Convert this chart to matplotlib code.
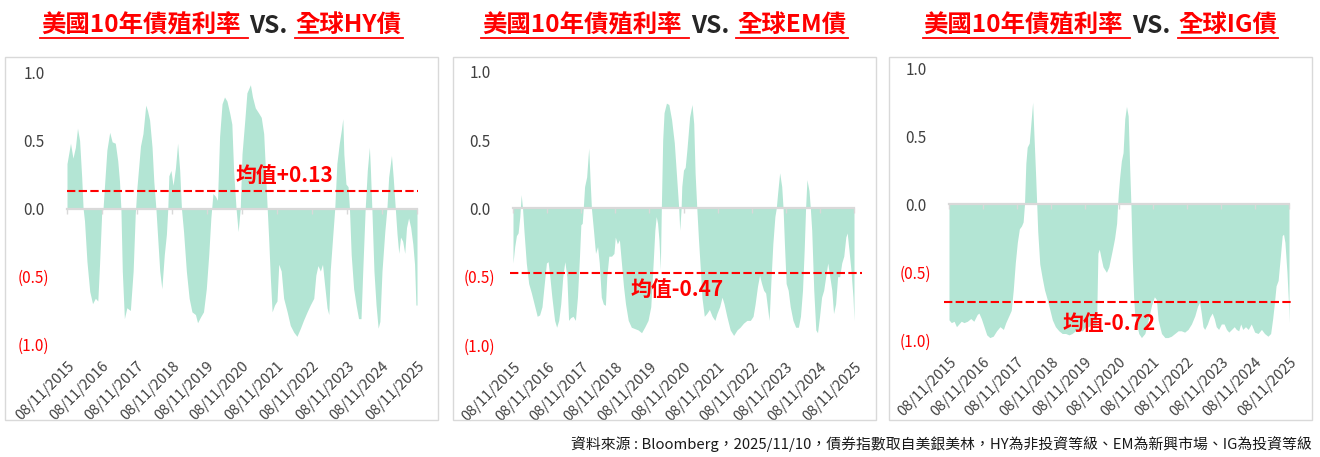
import matplotlib
matplotlib.use('Agg')
import matplotlib.pyplot as plt
from matplotlib.patches import Rectangle
from matplotlib.lines import Line2D
from matplotlib.transforms import ScaledTranslation

plt.rcParams['font.family'] = ['Noto Sans CJK TC', 'DejaVu Sans']

# ---- data (years since 08/11/2015, rolling correlation) ----
years = list(range(2015, 2026))
date_labels = ['08/11/%d' % y for y in years]
tick_pos = [y - 2015 for y in years]

t_hy = [0.00, 0.10, 0.17, 0.24, 0.30, 0.36, 0.42, 0.46, 0.50, 0.57,
        0.65, 0.73, 0.81, 0.88, 0.93, 0.99, 1.03, 1.08, 1.14, 1.22,
        1.29, 1.38, 1.45, 1.50, 1.54, 1.58, 1.64, 1.71, 1.81, 1.89,
        1.95, 2.00, 2.10, 2.17, 2.25, 2.30, 2.36, 2.43, 2.48, 2.54,
        2.59, 2.65, 2.71, 2.78, 2.84, 2.88, 2.91, 2.97, 3.03, 3.10,
        3.16, 3.22, 3.27, 3.33, 3.41, 3.49, 3.57, 3.67, 3.73, 3.81,
        3.90, 3.98, 4.05, 4.11, 4.17, 4.24, 4.30, 4.36, 4.43, 4.50,
        4.57, 4.65, 4.71, 4.76, 4.83, 4.89, 4.95, 5.00, 5.08, 5.14,
        5.24, 5.30, 5.38, 5.48, 5.55, 5.62, 5.67, 5.72, 5.76, 5.81,
        5.86, 5.93, 6.00, 6.05, 6.12, 6.19, 6.29, 6.38, 6.48, 6.57,
        6.67, 6.76, 6.86, 6.95, 7.05, 7.11, 7.17, 7.24, 7.30, 7.36,
        7.43, 7.48, 7.52, 7.59, 7.65, 7.71, 7.78, 7.84, 7.88, 7.91,
        7.97, 8.03, 8.07, 8.12, 8.19, 8.26, 8.33, 8.40, 8.45, 8.52,
        8.58, 8.64, 8.67, 8.71, 8.77, 8.83, 8.89, 8.94, 9.00, 9.08,
        9.14, 9.19, 9.27, 9.32, 9.38, 9.43, 9.48, 9.53, 9.59, 9.65,
        9.70, 9.76, 9.82, 9.88, 9.93, 9.97, 10.00]
v_hy = [0.33, 0.48, 0.37, 0.45, 0.59, 0.50, 0.23, 0.00, -0.09, -0.39,
        -0.61, -0.70, -0.66, -0.68, -0.41, -0.04, 0.00, 0.20, 0.43, 0.56,
        0.49, 0.48, 0.35, 0.20, 0.00, -0.46, -0.81, -0.73, -0.75, -0.46,
        -0.04, 0.16, 0.46, 0.55, 0.76, 0.72, 0.65, 0.45, 0.20, 0.00,
        -0.21, -0.46, -0.59, -0.34, -0.19, 0.00, 0.24, 0.28, 0.17, 0.30,
        0.48, 0.28, 0.00, -0.17, -0.46, -0.66, -0.76, -0.78, -0.84, -0.80,
        -0.76, -0.59, -0.34, -0.07, 0.11, 0.09, 0.06, 0.53, 0.77, 0.82,
        0.79, 0.70, 0.62, 0.28, 0.00, -0.17, 0.00, 0.40, 0.65, 0.85,
        0.91, 0.82, 0.74, 0.70, 0.67, 0.55, 0.28, 0.00, -0.21, -0.51,
        -0.76, -0.71, -0.68, -0.41, -0.46, -0.66, -0.76, -0.86, -0.91, -0.94,
        -0.88, -0.82, -0.76, -0.71, -0.66, -0.49, -0.42, -0.46, -0.41, -0.56,
        -0.73, -0.78, -0.46, -0.21, 0.00, 0.33, 0.48, 0.58, 0.66, 0.40,
        0.18, 0.16, 0.00, -0.34, -0.59, -0.71, -0.81, -0.81, -0.46, 0.00,
        0.28, 0.45, 0.28, 0.00, -0.46, -0.71, -0.88, -0.83, -0.46, -0.17,
        0.00, 0.23, 0.39, 0.23, 0.00, -0.19, -0.33, -0.21, -0.24, -0.33,
        -0.14, -0.07, -0.14, -0.26, -0.41, -0.71, -0.71]

t_em = [0.00, 0.05, 0.10, 0.15, 0.20, 0.24, 0.28, 0.32, 0.39, 0.46,
        0.54, 0.62, 0.71, 0.78, 0.85, 0.91, 0.98, 1.03, 1.08, 1.14,
        1.22, 1.28, 1.34, 1.40, 1.46, 1.52, 1.58, 1.63, 1.69, 1.76,
        1.83, 1.89, 1.95, 1.99, 2.03, 2.06, 2.10, 2.16, 2.22, 2.26,
        2.30, 2.36, 2.42, 2.48, 2.53, 2.59, 2.65, 2.71, 2.75, 2.81,
        2.89, 2.96, 3.00, 3.06, 3.12, 3.18, 3.24, 3.30, 3.38, 3.47,
        3.57, 3.67, 3.77, 3.86, 3.96, 4.04, 4.11, 4.16, 4.20, 4.24,
        4.28, 4.32, 4.35, 4.39, 4.43, 4.50, 4.57, 4.65, 4.73, 4.79,
        4.86, 4.89, 4.93, 4.95, 5.00, 5.05, 5.10, 5.18, 5.25, 5.30,
        5.34, 5.39, 5.44, 5.49, 5.54, 5.61, 5.68, 5.76, 5.84, 5.92,
        5.98, 6.06, 6.13, 6.19, 6.27, 6.37, 6.47, 6.57, 6.66, 6.76,
        6.86, 6.96, 7.04, 7.10, 7.17, 7.23, 7.29, 7.35, 7.41, 7.47,
        7.51, 7.56, 7.62, 7.68, 7.72, 7.76, 7.82, 7.88, 7.92, 7.96,
        8.01, 8.07, 8.13, 8.21, 8.29, 8.37, 8.43, 8.49, 8.54, 8.58,
        8.62, 8.68, 8.72, 8.76, 8.82, 8.88, 8.93, 8.99, 9.05, 9.11,
        9.17, 9.23, 9.29, 9.35, 9.40, 9.46, 9.52, 9.58, 9.64, 9.70,
        9.76, 9.80, 9.85, 9.91, 9.97, 10.00]
v_em = [-0.40, -0.28, -0.20, -0.18, -0.06, 0.10, 0.00, -0.16, -0.40, -0.55,
        -0.62, -0.70, -0.79, -0.78, -0.72, -0.57, -0.40, -0.39, -0.50, -0.65,
        -0.82, -0.87, -0.82, -0.70, -0.50, -0.39, -0.50, -0.82, -0.80, -0.79,
        -0.82, -0.65, -0.35, -0.12, -0.11, 0.00, 0.16, 0.23, 0.44, 0.21,
        0.00, -0.16, -0.33, -0.28, -0.40, -0.65, -0.70, -0.71, -0.50, -0.35,
        -0.35, -0.33, -0.21, -0.26, -0.23, -0.40, -0.57, -0.70, -0.82, -0.87,
        -0.88, -0.89, -0.91, -0.87, -0.82, -0.72, -0.40, -0.16, -0.06, -0.11,
        -0.23, -0.45, 0.00, 0.50, 0.70, 0.77, 0.76, 0.65, 0.48, 0.26,
        0.00, -0.16, 0.00, 0.16, 0.28, 0.30, 0.43, 0.67, 0.76, 0.62,
        0.26, 0.00, -0.23, -0.43, -0.65, -0.79, -0.77, -0.74, -0.79, -0.82,
        -0.77, -0.72, -0.65, -0.70, -0.79, -0.89, -0.93, -0.89, -0.87, -0.84,
        -0.82, -0.82, -0.79, -0.70, -0.57, -0.49, -0.55, -0.60, -0.62, -0.74,
        -0.82, -0.55, -0.26, -0.06, 0.00, 0.11, 0.26, 0.16, 0.00, -0.26,
        -0.55, -0.60, -0.72, -0.82, -0.87, -0.87, -0.79, -0.60, -0.30, 0.00,
        0.21, 0.13, 0.00, -0.16, -0.60, -0.89, -0.91, -0.79, -0.65, -0.60,
        -0.50, -0.40, -0.50, -0.60, -0.77, -0.70, -0.50, -0.50, -0.40, -0.35,
        -0.21, -0.18, -0.30, -0.45, -0.65, -0.82]

t_ig = [0.00, 0.07, 0.15, 0.22, 0.29, 0.36, 0.44, 0.54, 0.64, 0.73,
        0.83, 0.88, 0.95, 1.03, 1.11, 1.20, 1.30, 1.40, 1.50, 1.60,
        1.67, 1.76, 1.83, 1.89, 1.95, 2.01, 2.07, 2.13, 2.18, 2.22,
        2.26, 2.30, 2.36, 2.42, 2.46, 2.50, 2.55, 2.58, 2.61, 2.67,
        2.74, 2.81, 2.89, 2.97, 3.04, 3.13, 3.23, 3.33, 3.43, 3.53,
        3.62, 3.72, 3.82, 3.92, 4.02, 4.11, 4.21, 4.28, 4.34, 4.38,
        4.42, 4.46, 4.53, 4.63, 4.70, 4.80, 4.87, 4.93, 4.96, 4.98,
        5.02, 5.07, 5.12, 5.17, 5.22, 5.27, 5.31, 5.35, 5.39, 5.43,
        5.46, 5.52, 5.58, 5.66, 5.76, 5.86, 5.96, 6.04, 6.10, 6.15,
        6.25, 6.35, 6.44, 6.54, 6.64, 6.74, 6.83, 6.93, 7.03, 7.13,
        7.23, 7.31, 7.37, 7.42, 7.47, 7.52, 7.60, 7.67, 7.74, 7.80,
        7.86, 7.93, 8.01, 8.09, 8.16, 8.23, 8.31, 8.39, 8.45, 8.52,
        8.58, 8.64, 8.72, 8.80, 8.89, 8.99, 9.09, 9.19, 9.28, 9.38,
        9.46, 9.52, 9.56, 9.62, 9.68, 9.74, 9.80, 9.84, 9.88, 9.94,
        9.98, 10.00]
v_ig = [-0.85, -0.87, -0.86, -0.90, -0.88, -0.86, -0.87, -0.86, -0.84, -0.86,
        -0.81, -0.80, -0.84, -0.90, -0.96, -0.98, -0.97, -0.93, -0.90, -0.92,
        -0.87, -0.82, -0.78, -0.63, -0.43, -0.28, -0.18, -0.16, -0.13, 0.00,
        0.30, 0.42, 0.45, 0.63, 0.75, 0.50, 0.20, 0.00, -0.20, -0.44,
        -0.54, -0.63, -0.70, -0.78, -0.85, -0.90, -0.93, -0.95, -0.95, -0.96,
        -0.95, -0.93, -0.93, -0.93, -0.90, -0.90, -0.88, -0.90, -0.88, -0.36,
        -0.33, -0.38, -0.46, -0.50, -0.46, -0.34, -0.25, -0.14, 0.00, 0.08,
        0.20, 0.32, 0.38, 0.63, 0.72, 0.65, 0.30, 0.00, -0.40, -0.68,
        -0.80, -0.88, -0.95, -0.98, -0.95, -0.85, -0.74, -0.68, -0.70, -0.85,
        -0.95, -0.98, -0.98, -0.97, -0.95, -0.93, -0.93, -0.94, -0.92, -0.88,
        -0.82, -0.75, -0.72, -0.80, -0.90, -0.92, -0.88, -0.83, -0.80, -0.84,
        -0.90, -0.92, -0.88, -0.88, -0.92, -0.94, -0.92, -0.90, -0.92, -0.93,
        -0.88, -0.92, -0.90, -0.92, -0.88, -0.94, -0.95, -0.92, -0.95, -0.97,
        -0.95, -0.84, -0.75, -0.60, -0.56, -0.40, -0.23, -0.22, -0.28, -0.50,
        -0.70, -0.87]

series_t = [t_hy, t_em, t_ig]
series_v = [v_hy, v_em, v_ig]
title_left = '美國10年債殖利率'
title_right = ['全球HY債', '全球EM債', '全球IG債']
means = [0.13, -0.47, -0.72]
mean_text = ['均值+0.13', '均值-0.47', '均值-0.72']
ytick_vals = [1.0, 0.5, 0.0, -0.5, -1.0]
ytick_labels = ['1.0', '0.5', '0.0', '(0.5)', '(1.0)']
source = '資料來源 : Bloomberg，2025/11/10，債券指數取自美銀美林，HY為非投資等級、EM為新興市場、IG為投資等級'

# ---- styling / layout (pixels) ----
W, H = 1320, 457
RED = '#ff0000'
DARK = '#262626'
GREY = '#404040'
LINE = '#d9d9d9'
MINT = '#b3e5d4'

frames = [(5, 57, 438, 420), (453, 57, 876, 420), (889, 57, 1312, 420)]
axes_px = [(67, 72.5, 417, 344.5), (513, 71.7, 854, 345), (949, 68.3, 1289, 340.3)]
label_xy = [(6.2, 0.24), (4.8, -0.59), (4.7, -0.875)]
mean_span = [(0.0, 1.003), (-0.008, 1.023), (-0.015, 1.015)]

fig = plt.figure(figsize=(W / 100, H / 100), dpi=100)
renderer = fig.canvas.get_renderer()


def draw_title(cx, base_y, right_text):
    parts = [(title_left, RED, 7, 9), ('VS.', DARK, None, 8), (right_text, RED, 1, 0)]
    arts = []
    for s, c, ul, gap in parts:
        t = fig.text(0, 1 - base_y / H, s, color=c, fontsize=17.6, fontweight='bold',
                     ha='left', va='baseline')
        w = t.get_window_extent(renderer).width
        arts.append((t, w, ul, gap))
    total = sum(w + g for _, w, _, g in arts)
    x = cx - total / 2
    for t, w, ul, gap in arts:
        t.set_x(x / W)
        if ul is not None:
            yu = 1 - (base_y + 5) / H
            fig.add_artist(Line2D([(x - 1) / W, (x + w + ul) / W], [yu, yu],
                                  transform=fig.transFigure, color=RED, lw=1.3))
        x += w + gap


for i in range(3):
    l, t, r, b = frames[i]
    fig.add_artist(Rectangle((l / W, 1 - b / H), (r - l) / W, (b - t) / H,
                             transform=fig.transFigure, fill=False, ec=LINE, lw=1))
    draw_title((l + r) / 2, 33, title_right[i])

    al, at, ar, ab = axes_px[i]
    ax = fig.add_axes([al / W, 1 - ab / H, (ar - al) / W, (ab - at) / H])
    ax.patch.set_alpha(0)
    ax.fill_between(series_t[i], series_v[i], 0, color=MINT, lw=0, zorder=1)
    ax.set_xlim(0, 10)
    ax.set_ylim(-1, 1)

    for s in ['top', 'right', 'left']:
        ax.spines[s].set_visible(False)
    ax.spines['bottom'].set_position(('data', 0))
    ax.spines['bottom'].set_color(LINE)
    ax.spines['bottom'].set_linewidth(1.6)
    ax.set_xticks(tick_pos)
    ax.tick_params(axis='x', length=3.5, width=1, color=LINE, labelbottom=False)

    ax.set_yticks(ytick_vals)
    ax.set_yticklabels(ytick_labels, fontsize=11)
    ax.tick_params(axis='y', length=0, pad=12.6)
    for v, lab in zip(ytick_vals, ax.get_yticklabels()):
        if v < 0:
            lab.set_color(RED)
        else:
            lab.set_color(GREY)
            lab.set_transform(lab.get_transform() + ScaledTranslation(-5 / 100, 0, fig.dpi_scale_trans))

    sec = ax.secondary_xaxis('bottom')
    sec.set_xticks(tick_pos)
    sec.set_xticklabels(date_labels, rotation=45, ha='right', va='top',
                        rotation_mode='anchor', fontsize=10.5, color=GREY)
    sec.tick_params(length=0, pad=10.5)
    sec.spines['bottom'].set_visible(False)

    x0, x1 = mean_span[i]
    ax.axhline(means[i], xmin=x0, xmax=x1, color=RED, lw=1.5, ls=(0, (4, 1.6)),
               clip_on=False, zorder=3)
    lx, ly = label_xy[i]
    ax.text(lx, ly, mean_text[i], color=RED, fontsize=15, fontweight='bold',
            ha='center', va='center', zorder=4)

fig.text(1312 / W, 1 - 449 / H, source, color='#1a1a1a', fontsize=10.7,
         ha='right', va='baseline')

fig.savefig('out.png', dpi=100)
